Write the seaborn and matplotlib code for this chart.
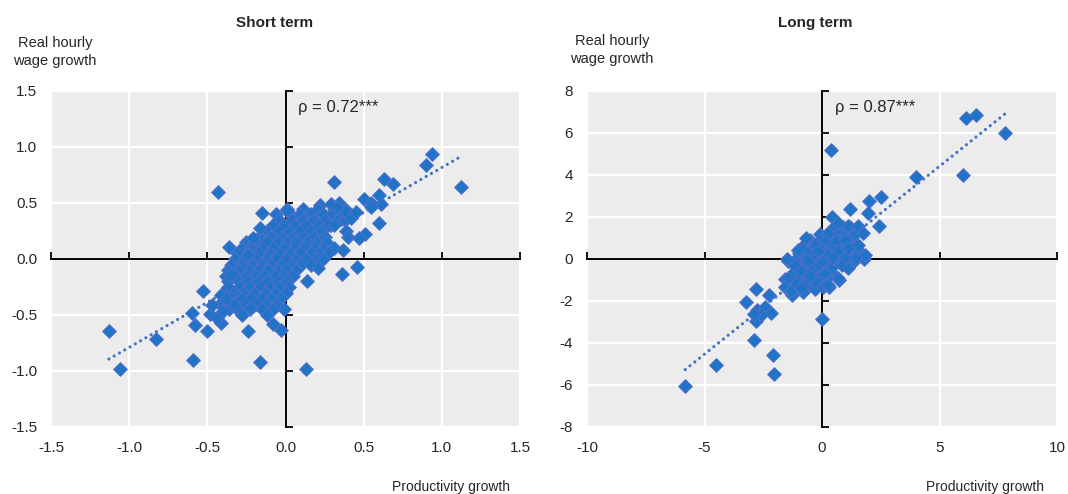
import matplotlib
matplotlib.use('Agg')
import matplotlib.pyplot as plt
import seaborn as sns

# Short term: productivity growth (x) vs real hourly wage growth (y)
short_x = [
    # dense cluster, row by row (top to bottom)
    0.22, 0.34,
    0.01, 0.11, 0.21, 0.31, 0.38,
    -0.06, 0.03, 0.09, 0.16, 0.24, 0.30, 0.36, 0.41,
    -0.04, 0.04, 0.11, 0.18, 0.25, 0.33, 0.38,
    -0.08, -0.01, 0.06, 0.13, 0.21, 0.27, 0.31,
    -0.12, -0.04, 0.03, 0.09, 0.16, 0.23, 0.39,
    -0.17, -0.09, -0.02, 0.05, 0.12, 0.18, 0.25, 0.40,
    -0.25, -0.20, -0.12, -0.05, 0.01, 0.07, 0.14, 0.20, 0.26,
    -0.28, -0.22, -0.15, -0.08, -0.01, 0.06, 0.12, 0.19, 0.24, 0.31,
    -0.31, -0.24, -0.17, -0.10, -0.04, 0.03, 0.09, 0.16, 0.22, 0.27,
    -0.32, -0.26, -0.19, -0.12, -0.06, 0.00, 0.07, 0.13, 0.20, 0.24,
    -0.35, -0.28, -0.21, -0.15, -0.09, -0.03, 0.04, 0.10, 0.16,
    -0.37, -0.30, -0.23, -0.17, -0.11, -0.05, 0.01, 0.07,
    -0.38, -0.32, -0.25, -0.19, -0.13, -0.07, -0.01, 0.05,
    -0.37, -0.30, -0.24, -0.17, -0.11, -0.05, 0.01,
    -0.37, -0.30, -0.23, -0.16, -0.10, -0.04, 0.02,
    -0.40, -0.33, -0.27, -0.20, -0.13, -0.07, 0.00,
    -0.35, -0.28, -0.22, -0.15, -0.09, -0.03,
    -0.42, -0.33, -0.26, -0.19, -0.12, -0.06,
    -0.36, -0.31, -0.23, -0.15, -0.08, -0.01,
    -0.28,
    # scattered points
    -0.43, 0.31, 0.94, 0.90, 1.12, 0.63, 0.69, 0.50, 0.60, 0.61, 0.55,
    0.60, -0.15, 0.01, -0.36, -0.16, 0.29, 0.38, 0.51, 0.47, -0.21,
    -1.13, -1.06, -0.83, -0.59, -0.60, -0.58, -0.50, -0.53, -0.41, -0.24,
    -0.16, 0.13, -0.03, -0.08, -0.12, -0.23, 0.46, 0.36, 0.14, -0.48,
    -0.47, -0.40, -0.41, -0.33, -0.34, -0.24, 0.21, 0.37, -0.44, -0.38,
    0.33, 0.42, 0.45, 0.55,
]
short_y = [
    0.48, 0.50,
    0.45, 0.45, 0.45, 0.45, 0.45,
    0.40, 0.40, 0.40, 0.40, 0.40, 0.40, 0.40, 0.40,
    0.35, 0.35, 0.35, 0.35, 0.35, 0.35, 0.35,
    0.30, 0.30, 0.30, 0.30, 0.30, 0.30, 0.30,
    0.25, 0.25, 0.25, 0.25, 0.25, 0.25, 0.25,
    0.20, 0.20, 0.20, 0.20, 0.20, 0.20, 0.20, 0.20,
    0.15, 0.15, 0.15, 0.15, 0.15, 0.15, 0.15, 0.15, 0.15,
    0.10, 0.10, 0.10, 0.10, 0.10, 0.10, 0.10, 0.10, 0.10, 0.10,
    0.05, 0.05, 0.05, 0.05, 0.05, 0.05, 0.05, 0.05, 0.05, 0.05,
    0.00, 0.00, 0.00, 0.00, 0.00, 0.00, 0.00, 0.00, 0.00, 0.00,
    -0.05, -0.05, -0.05, -0.05, -0.05, -0.05, -0.05, -0.05, -0.05,
    -0.10, -0.10, -0.10, -0.10, -0.10, -0.10, -0.10, -0.10,
    -0.15, -0.15, -0.15, -0.15, -0.15, -0.15, -0.15, -0.15,
    -0.20, -0.20, -0.20, -0.20, -0.20, -0.20, -0.20,
    -0.25, -0.25, -0.25, -0.25, -0.25, -0.25, -0.25,
    -0.30, -0.30, -0.30, -0.30, -0.30, -0.30, -0.30,
    -0.35, -0.35, -0.35, -0.35, -0.35, -0.35,
    -0.40, -0.40, -0.40, -0.40, -0.40, -0.40,
    -0.45, -0.45, -0.45, -0.45, -0.45, -0.45,
    -0.50,
    0.60, 0.69, 0.94, 0.84, 0.64, 0.71, 0.67, 0.54, 0.57, 0.49, 0.50,
    0.32, 0.41, 0.44, 0.11, 0.28, 0.49, 0.43, 0.22, 0.19, 0.19,
    -0.64, -0.98, -0.71, -0.90, -0.48, -0.59, -0.64, -0.29, -0.57, -0.64,
    -0.92, -0.98, -0.63, -0.58, -0.50, -0.44, -0.07, -0.13, -0.20, -0.49,
    -0.41, -0.46, -0.32, -0.40, -0.13, 0.04, -0.08, 0.08, -0.53, -0.36,
    0.46, 0.37, 0.42, 0.46,
]

# Long term
long_x = [
    # dense cluster
    0.5, 0.9, 1.2,
    -0.1, 0.3, 0.7, 1.0, 1.4,
    -0.5, -0.1, 0.3, 0.7, 1.1,
    -0.8, -0.4, 0.0, 0.4, 0.8, 1.2,
    -1.0, -0.6, -0.2, 0.2, 0.6, 1.0,
    -1.1, -0.7, -0.3, 0.1, 0.5, 0.8,
    -1.2, -0.8, -0.4, 0.0, 0.4,
    -1.2, -0.8, -0.4, 0.0, 0.4,
    -1.0, -0.6, -0.2, 0.2,
    -1.1, -0.7, -0.3,
    # scattered points
    -5.82, -4.53, -2.04, -2.10, -2.91, 0.00, -3.24, -2.82, -2.24, -2.76,
    -2.44, -2.15, -2.81, -2.59, -2.90, -1.46, -1.56, -1.56, -1.26, -0.82,
    -0.31, 0.06, 0.28, 0.72, 1.38, 1.79, 1.00, 1.49,
    0.40, 6.12, 6.56, 7.78, 5.99, 3.99, 2.01, 2.51, 1.21, 1.97, 2.44, 0.43,
    0.69, 1.11, 1.54, 1.76, 1.54, 1.83, 1.40, 0.97, -1.49, -0.67,
    -1.03, -0.31, 0.19, 0.61, 0.97, 0.26, -0.17, 0.26, 0.69, 1.11,
    -0.60, -0.17, 0.40, 0.83, -1.17, -0.89, -1.46, -1.31, -0.89, -0.31,
    0.26, 0.69, -0.46, 0.11, 0.04, 0.47, 1.11, -0.53,
]
long_y = [
    1.5, 1.5, 1.5,
    1.2, 1.2, 1.2, 1.2, 1.2,
    0.9, 0.9, 0.9, 0.9, 0.9,
    0.6, 0.6, 0.6, 0.6, 0.6, 0.6,
    0.3, 0.3, 0.3, 0.3, 0.3, 0.3,
    0.0, 0.0, 0.0, 0.0, 0.0, 0.0,
    -0.3, -0.3, -0.3, -0.3, -0.3,
    -0.6, -0.6, -0.6, -0.6, -0.6,
    -0.9, -0.9, -0.9, -0.9,
    -1.2, -1.2, -1.2,
    -6.05, -5.05, -5.47, -4.55, -3.86, -2.86, -2.03, -1.41, -1.72, -2.42,
    -2.27, -2.58, -2.97, -2.66, -2.60, -0.08, -0.94, -1.33, -1.72, -1.56,
    -1.41, -1.33, -1.33, -1.02, -0.08, 0.00, -0.08, 0.47,
    5.21, 6.71, 6.87, 6.00, 4.02, 3.89, 2.78, 2.94, 2.38, 2.19, 1.56, 2.02,
    1.71, 1.56, 1.56, 1.24, 0.68, 0.21, 0.05, 0.05, 0.02, 1.00,
    0.44, 0.68, 0.92, 0.84, 0.92, 1.24, 0.37, 0.21, 0.37, 0.52,
    -0.11, -0.27, -0.43, -0.27, -0.27, -0.59, -0.90, -1.54, -1.38, -1.06,
    -1.22, -0.90, -0.59, -0.67, -0.11, 0.05, -0.43, -0.83,
]

titles = ['Short term', 'Long term']
rho_labels = ['ρ = 0.72***', 'ρ = 0.87***']
short_ticks = [-1.5, -1.0, -0.5, 0.0, 0.5, 1.0, 1.5]
long_xticks = [-10, -5, 0, 5, 10]
long_yticks = [-8, -6, -4, -2, 0, 2, 4, 6, 8]

fill = '#1f74c8'
edge = '#4f6fca'
line_col = '#4472c4'

sns.set_style('darkgrid', {'axes.facecolor': '#ececec', 'grid.color': 'white'})
plt.rcParams['font.family'] = ['Liberation Sans', 'DejaVu Sans']
plt.rcParams['axes.unicode_minus'] = False

fig = plt.figure(figsize=(10.68, 4.94), dpi=100)
ax1 = fig.add_axes([51 / 1068, 67 / 494, 469 / 1068, 336 / 494])
ax2 = fig.add_axes([587 / 1068, 67 / 494, 470 / 1068, 336 / 494])


def draw_panel(ax, xs, ys, xt, yt, fmt, rho):
    sns.regplot(x=xs, y=ys, ax=ax, scatter=False, ci=None, truncate=True,
                line_kws=dict(color=line_col, lw=2.3, ls=(0, (0.01, 1.9)),
                              dash_capstyle='round', zorder=2.7))
    sns.scatterplot(x=xs, y=ys, ax=ax, marker='D', s=48, color=fill,
                    edgecolor=edge, linewidth=0.8, zorder=3)
    ax.set_xlim(xt[0], xt[-1])
    ax.set_ylim(yt[0], yt[-1])
    ax.set_xticks(xt)
    ax.set_yticks(yt)
    ax.grid(True, color='white', lw=1.6)
    for s in ['top', 'right']:
        ax.spines[s].set_visible(False)
    for s in ['left', 'bottom']:
        ax.spines[s].set_visible(True)
        ax.spines[s].set_position(('data', 0))
        ax.spines[s].set_color('black')
        ax.spines[s].set_linewidth(1.4)
        ax.spines[s].set_zorder(2.5)
    ax.tick_params(axis='both', direction='in', length=5, width=1.3, color='black',
                   labelbottom=False, labelleft=False, bottom=True, left=True)

    # tick labels on the outer edges
    secx = ax.secondary_xaxis('bottom')
    secx.set_xticks(xt, labels=[fmt.format(v) for v in xt])
    secx.tick_params(length=0, pad=10, labelsize=11)
    secx.spines['bottom'].set_visible(False)
    secy = ax.secondary_yaxis('left')
    secy.set_yticks(yt, labels=[fmt.format(v) for v in yt])
    secy.tick_params(length=0, pad=10, labelsize=11)
    secy.spines['left'].set_visible(False)

    ax.text(0.527, 0.952, rho, transform=ax.transAxes, fontsize=12,
            va='center', ha='left')


draw_panel(ax1, short_x, short_y, short_ticks, short_ticks, '{:.1f}', rho_labels[0])
draw_panel(ax2, long_x, long_y, long_xticks, long_yticks, '{:d}', rho_labels[1])

fig.text(275 / 1068, 1 - 23 / 494, titles[0], ha='center', va='center',
         fontsize=11, fontweight='bold')
fig.text(815 / 1068, 1 - 23 / 494, titles[1], ha='center', va='center',
         fontsize=11, fontweight='bold')
fig.text(55 / 1068, 1 - 52 / 494, 'Real hourly\nwage growth', ha='center',
         va='center', fontsize=10.5, linespacing=1.35)
fig.text(612 / 1068, 1 - 50 / 494, 'Real hourly\nwage growth', ha='center',
         va='center', fontsize=10.5, linespacing=1.35)
fig.text(510 / 1068, 1 - 487 / 494, 'Productivity growth', ha='right',
         va='center', fontsize=10)
fig.text(1044 / 1068, 1 - 487 / 494, 'Productivity growth', ha='right',
         va='center', fontsize=10)

fig.savefig('out.png', dpi=100)
